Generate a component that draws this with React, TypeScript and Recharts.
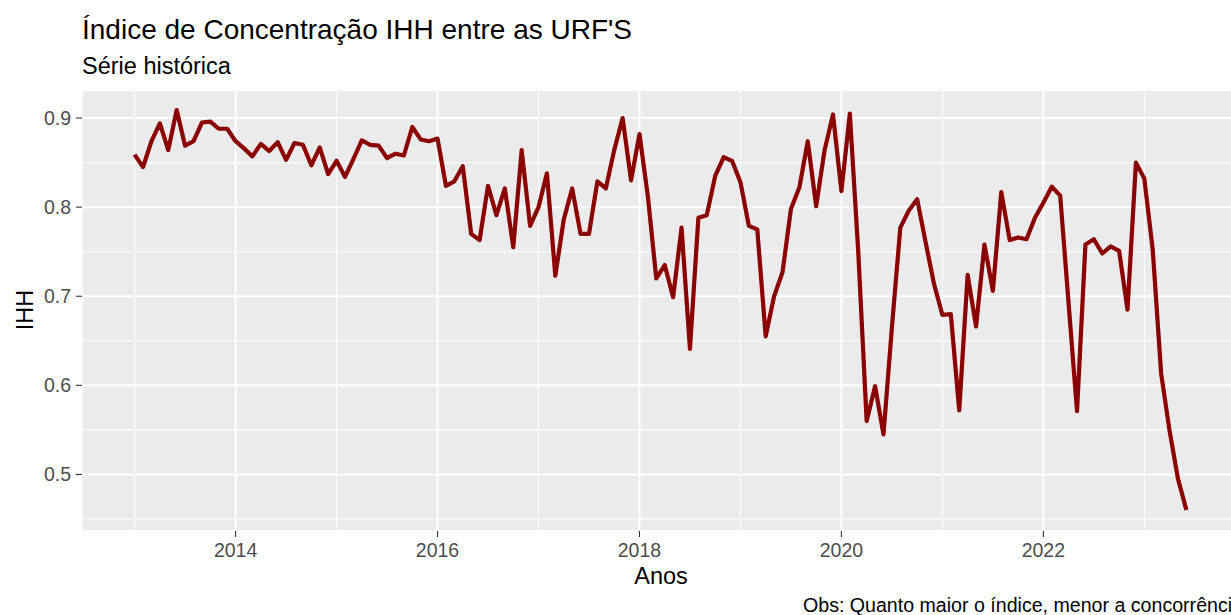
import React from "react";
import { LineChart, Line, XAxis, YAxis, CartesianGrid, ReferenceLine } from "recharts";

// Monthly IHH values, Jan 2013 .. Jun 2023
const startYear = 2013;
const ihhValues = [
  0.859, 0.845, 0.874, 0.894, 0.864, 0.909, 0.869, 0.874, 0.895, 0.896, 0.888, 0.888,
  0.874, 0.866, 0.857, 0.871, 0.863, 0.873, 0.853, 0.872, 0.870, 0.847, 0.867, 0.837,
  0.852, 0.834, 0.854, 0.875, 0.870, 0.869, 0.855, 0.860, 0.858, 0.890, 0.876, 0.874,
  0.877, 0.824, 0.829, 0.846, 0.770, 0.763, 0.824, 0.791, 0.821, 0.755, 0.864, 0.779,
  0.800, 0.838, 0.723, 0.786, 0.821, 0.770, 0.770, 0.829, 0.821, 0.864, 0.900, 0.830,
  0.882, 0.812, 0.720, 0.735, 0.699, 0.777, 0.641, 0.788, 0.791, 0.835, 0.856, 0.852,
  0.828, 0.779, 0.775, 0.655, 0.700, 0.727, 0.798, 0.822, 0.874, 0.801, 0.864, 0.904,
  0.818, 0.905, 0.750, 0.560, 0.599, 0.545, 0.665, 0.777, 0.796, 0.809, 0.761, 0.714,
  0.679, 0.680, 0.572, 0.724, 0.666, 0.758, 0.706, 0.817, 0.763, 0.766, 0.764, 0.788,
  0.805, 0.823, 0.813, 0.692, 0.571, 0.758, 0.764, 0.748, 0.756, 0.751, 0.685, 0.850,
  0.832, 0.752, 0.613, 0.549, 0.495, 0.460,
];

const xMajorTicks = [2014, 2016, 2018, 2020, 2022];
const xMinorTicks = [2013, 2015, 2017, 2019, 2021, 2023];
const yMajorTicks = [0.5, 0.6, 0.7, 0.8, 0.9];
const yMinorTicks = [0.45, 0.55, 0.65, 0.75, 0.85];

const titleText = "Índice de Concentração IHH entre as URF'S";
const subtitleText = "Série histórica";
const xTitle = "Anos";
const yTitle = "IHH";
const captionText = "Obs: Quanto maior o índice, menor a concorrência";

const data = ihhValues.map((v, i) => ({ t: startYear + i / 12, ihh: v }));

const FONT = "'Liberation Sans', Arial, Helvetica, sans-serif";

export default function App() {
  return (
    <div
      style={{
        position: "absolute",
        left: 0,
        top: 0,
        width: 1231,
        height: 615,
        overflow: "hidden",
        background: "#FFFFFF",
        fontFamily: FONT,
      }}
    >
      <LineChart
        width={1265}
        height={615}
        data={data}
        margin={{ top: 90, right: 26, bottom: 0, left: 0 }}
      >
        <CartesianGrid
          fill="#EBEBEB"
          stroke="#FFFFFF"
          strokeWidth={2.1}
          fillOpacity={1}
        />
        {xMinorTicks.map((x) => (
          <ReferenceLine key={"vx" + x} x={x} stroke="#FFFFFF" strokeWidth={1.05} />
        ))}
        {yMinorTicks.map((y) => (
          <ReferenceLine key={"hy" + y} y={y} stroke="#FFFFFF" strokeWidth={1.05} />
        ))}
        <XAxis
          dataKey="t"
          type="number"
          domain={[2012.479, 2023.9375]}
          ticks={xMajorTicks}
          allowDataOverflow
          axisLine={false}
          tickLine={{ stroke: "#333333", strokeWidth: 1.1 }}
          tickSize={6}
          tickMargin={6}
          height={84}
          tick={{ fill: "#4D4D4D", fontSize: 19.5, fontFamily: FONT }}
        />
        <YAxis
          type="number"
          domain={[0.4365, 0.9315]}
          ticks={yMajorTicks}
          allowDataOverflow
          axisLine={false}
          tickLine={{ stroke: "#333333", strokeWidth: 1.1 }}
          tickSize={6}
          tickMargin={5}
          width={82}
          tickFormatter={(v: number) => v.toFixed(1)}
          tick={{ fill: "#4D4D4D", fontSize: 19.5, fontFamily: FONT }}
        />
        <Line
          type="linear"
          dataKey="ihh"
          stroke="#8B0000"
          strokeWidth={4.2}
          strokeLinejoin="round"
          dot={false}
          activeDot={false}
          isAnimationActive={false}
        />
      </LineChart>
      <svg
        width={1231}
        height={615}
        style={{ position: "absolute", left: 0, top: 0, pointerEvents: "none" }}
      >
        <text x={82} y={38.5} fontSize={28} fill="#000000" fontFamily={FONT}>
          {titleText}
        </text>
        <text x={82} y={73.5} fontSize={23.5} fill="#000000" fontFamily={FONT}>
          {subtitleText}
        </text>
        <text x={661} y={583.5} fontSize={23.5} fill="#000000" fontFamily={FONT} textAnchor="middle">
          {xTitle}
        </text>
        <text
          x={0}
          y={0}
          fontSize={23.5}
          fill="#000000"
          fontFamily={FONT}
          textAnchor="middle"
          transform="translate(32.5,310) rotate(-90)"
        >
          {yTitle}
        </text>
        <text x={803} y={611.5} fontSize={19.6} fill="#000000" fontFamily={FONT}>
          {captionText}
        </text>
      </svg>
    </div>
  );
}
